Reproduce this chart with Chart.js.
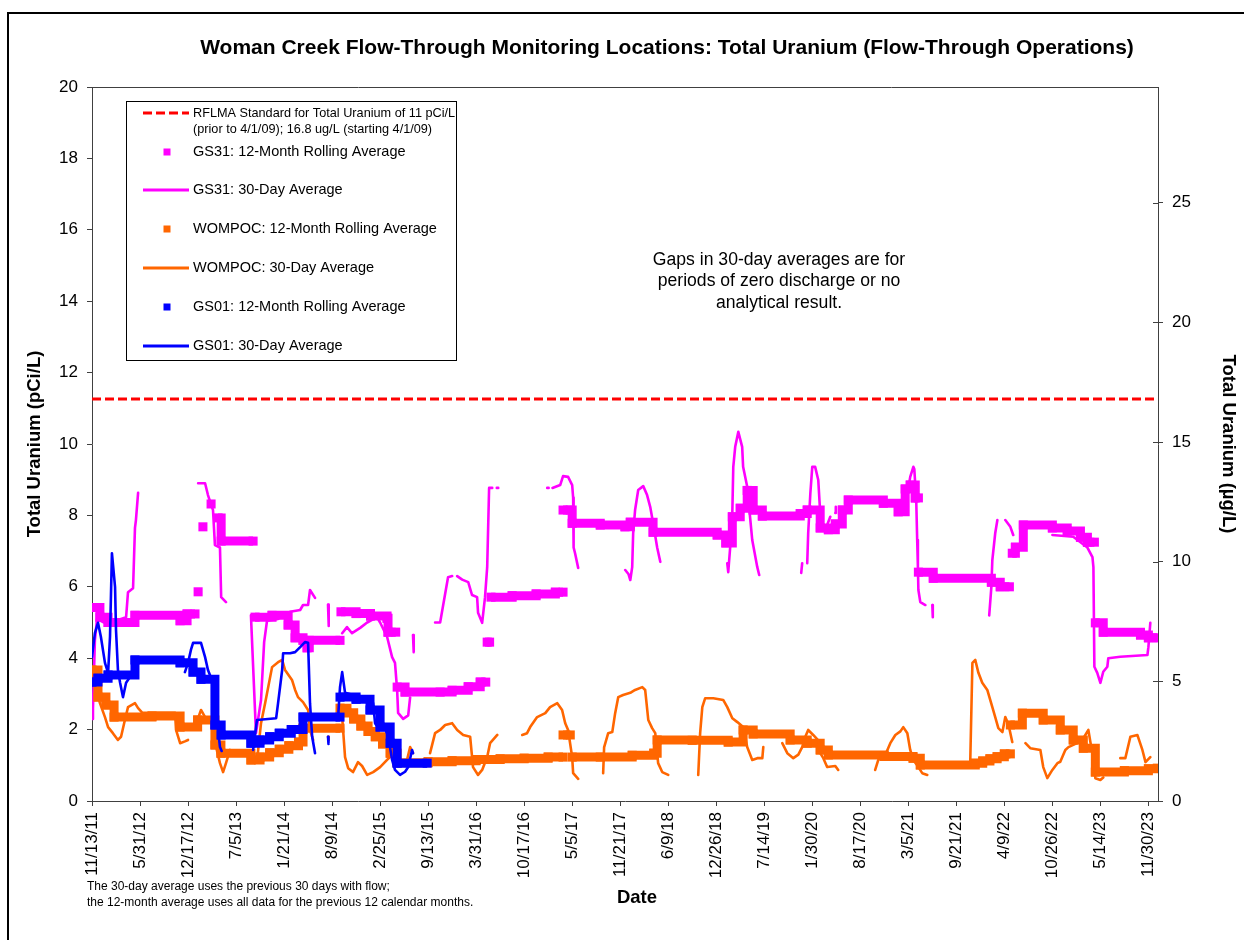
<!DOCTYPE html>
<html>
<head>
<meta charset="utf-8">
<script src="https://cdn.jsdelivr.net/npm/chart.js@4.4.1/dist/chart.umd.min.js"></script>
<style>
html,body{margin:0;padding:0;background:#fff;}
#wrap{width:1244px;height:940px;position:relative;}
</style>
</head>
<body>
<div id="wrap"><canvas id="myChart"></canvas></div>
<script>
// x values are days since 11/13/11 (first tick), y values in pCi/L
const dateTicks = ['11/13/11','5/31/12','12/17/12','7/5/13','1/21/14','8/9/14','2/25/15','9/13/15','3/31/16','10/17/16','5/5/17','11/21/17','6/9/18','12/26/18','7/14/19','1/30/20','8/17/20','3/5/21','9/21/21','4/9/22','10/26/22','5/14/23','11/30/23'];
const pciTicks = [0,2,4,6,8,10,12,14,16,18,20];
const ugTicks = [0,5,10,15,20,25];
const standardUgL = 16.8;
const xMax = 4440;
const ugMax = 29.84;

// GS31 12-month rolling average (step values, null = gap)
const gs31Roll = [
[0,5.42],[33,5.15],[67,5.0],[179,5.2],[367,5.05],[396,5.24],[429,5.24],null,
[442,5.86],null,[462,7.68],null,[496,8.32],null,
[525,7.93],[538,7.28],[671,7.28],null,
[679,5.15],[750,5.2],[817,4.93],[846,4.57],[879,4.5],[896,4.29],[905,4.5],[1033,4.5],null,
[1037,5.3],[1100,5.25],[1160,5.18],[1229,5.12],[1233,4.73],[1265,4.73],null,
[1271,3.19],[1304,3.05],[1450,3.05],[1500,3.1],[1567,3.2],[1617,3.33],[1640,3.33],null,
[1646,4.45],[1656,4.45],null,
[1662,5.71],[1750,5.75],[1850,5.8],[1930,5.85],[1962,5.85],null,
[1962,8.15],[1992,8.15],[2000,7.78],[2117,7.73],[2220,7.68],[2242,7.81],[2337,7.53],[2604,7.45],[2640,7.23],[2667,7.96],[2700,8.2],[2729,8.7],[2754,8.15],[2792,7.98],[2950,8.05],[2979,8.15],[3033,7.65],[3067,7.6],[3096,7.76],[3125,8.15],[3150,8.43],[3296,8.34],[3358,8.1],[3387,8.74],[3408,8.85],[3429,8.49],[3442,8.49],null,
[3442,6.41],[3504,6.24],[3746,6.13],[3783,6.0],[3821,6.0],null,
[3833,6.94],[3846,7.11],[3879,7.73],[4000,7.65],[4062,7.56],[4117,7.39],[4146,7.25],[4175,7.25],null,
[4179,4.99],[4212,4.73],[4367,4.65],[4400,4.57],[4437,4.57]
];

// GS31 30-day average
const gs31Avg = [
[0,2.3],[4,2.6],[12,4.5],[21,5.1],[50,5.0],[100,5.05],[142,5.15],[150,5.85],[171,5.96],[179,7.65],[183,7.87],[192,8.63],null,
[442,8.9],[471,8.9],[483,8.57],[504,8.15],[512,7.17],[533,7.1],[538,5.71],[558,5.57],null,
[662,5.2],[683,1.9],[704,2.83],[717,4.45],[729,5.05],[775,5.1],[825,5.3],[867,5.35],[879,5.49],[900,5.49],[908,5.91],[929,5.69],null,
[983,5.5],[986,4.9],null,
[1042,4.7],[1062,4.87],[1083,4.7],[1117,4.85],[1146,5.0],[1187,5.15],[1200,5.0],[1229,4.6],[1250,4.03],[1262,3.87],[1271,3.1],[1275,2.47],[1296,2.3],[1317,2.4],[1325,2.9],null,
[1337,4.65],[1340,4.17],null,
[1429,5.0],[1450,5.0],[1483,6.27],[1500,6.3],null,
[1521,6.3],[1542,6.2],[1567,6.13],[1583,5.77],[1604,5.71],[1608,5.27],[1625,4.99],[1637,5.71],[1646,6.55],[1654,8.77],[1667,8.77],null,
[1686,8.77],[1692,8.77],null,[1896,8.77],[1902,8.77],null,
[1918,8.77],[1950,8.85],[1962,9.1],[1983,9.08],[2000,8.85],[2004,8.5],[2006,7.1],[2012,6.94],[2025,6.53],null,
[2221,6.47],[2235,6.35],[2242,6.19],[2250,6.55],[2254,7.5],[2262,8.15],[2275,8.71],[2296,8.82],[2312,8.57],[2325,8.24],[2337,7.79],[2354,7.1],[2367,6.7],null,
[2646,6.66],[2650,6.41],[2658,7.1],[2667,8.07],[2671,9.36],[2679,9.92],[2692,10.34],[2708,9.92],[2712,9.36],[2729,8.8],[2750,7.31],[2771,6.55],[2779,6.33],null,
[2954,6.39],[2958,6.66],null,
[2979,6.66],[2983,7.5],[2992,8.62],[3000,9.36],[3012,9.36],[3025,8.99],[3033,8.07],[3042,7.68],null,
[3062,7.73],[3075,7.96],null,[3096,8.07],[3098,8.24],null,
[3379,8.29],[3396,8.6],[3408,9.08],[3421,9.36],[3425,9.3],[3433,8.43],[3437,7.31],[3440,6.55],[3442,5.91],[3450,5.57],[3471,5.49],null,
[3500,5.49],[3502,5.15],null,
[3737,5.2],[3746,6.0],[3750,6.75],[3762,7.5],[3771,7.87],null,
[3804,7.87],[3825,7.68],[3837,7.45],null,
[4000,7.45],[4087,7.4],[4146,7.1],[4167,6.83],[4171,6.55],[4175,3.76],[4187,3.59],[4200,3.31],[4212,3.62],[4229,3.76],[4233,4.0],[4283,4.04],[4396,4.09],[4400,4.31],[4408,4.99]
];

// WOMPOC 12-month rolling average
const wompocRoll = [
[0,3.67],[25,2.91],[58,2.69],[92,2.35],[250,2.38],[367,2.07],[440,2.27],[512,1.57],[537,1.34],[662,1.15],[700,1.23],[740,1.35],[780,1.45],[820,1.55],[860,1.65],[879,2.04],[1033,2.04],null,
[1033,2.6],[1062,2.47],[1090,2.3],[1120,2.1],[1150,1.95],[1180,1.8],[1210,1.6],[1242,1.34],[1271,1.07],[1400,1.1],[1500,1.13],[1600,1.16],[1700,1.18],[1800,1.2],[1900,1.23],[1962,1.23],null,
[1962,1.85],[1992,1.85],null,
[2000,1.23],[2117,1.23],[2250,1.28],[2340,1.34],[2354,1.71],[2500,1.7],[2650,1.65],[2712,1.99],[2754,1.88],[2908,1.71],[2979,1.62],[3033,1.43],[3067,1.29],[3300,1.25],[3420,1.2],[3450,1.01],[3679,1.06],[3710,1.12],[3740,1.18],[3770,1.24],[3800,1.32],[3825,1.32],null,
[3825,2.13],[3875,2.46],[3962,2.27],[4033,1.99],[4087,1.71],[4129,1.48],[4179,0.81],[4300,0.85],[4400,0.9],[4437,0.92]
];

// WOMPOC 30-day average
const wompocAvg = [
[0,3.7],[12,3.3],[33,2.74],[54,2.35],[67,2.07],[87,1.9],[108,1.71],[121,1.8],[137,2.27],[150,2.63],[179,2.74],[192,2.6],[210,2.47],[346,2.47],[350,1.99],[367,1.62],[387,1.67],[400,1.71],null,
[442,2.32],[454,2.55],[471,2.35],[512,2.32],[517,1.51],[533,1.06],[546,0.81],[558,1.06],[575,1.43],[600,1.3],[662,1.3],[679,1.06],[690,1.3],[704,2.18],[721,2.74],[750,3.75],[775,3.89],[792,3.95],[804,3.67],[833,3.39],[846,3.11],[858,2.91],[879,2.77],[900,2.55],[908,1.99],[921,1.71],null,
[983,1.8],[986,1.7],null,
[1025,2.63],[1042,2.35],[1054,1.23],[1067,0.92],[1087,0.81],[1108,1.09],[1125,0.98],[1146,0.73],[1171,0.81],[1200,0.95],[1229,1.15],[1250,1.29],[1271,1.06],[1312,1.15],[1325,1.51],[1337,1.34],null,
[1408,1.34],[1429,1.9],[1450,1.99],[1471,2.13],[1500,2.18],[1521,1.99],[1546,1.85],[1575,1.8],[1587,0.95],[1608,0.73],[1625,0.87],[1646,1.23],[1658,1.62],[1688,1.85],null,
[1792,1.85],[1812,1.9],[1825,2.07],[1854,2.35],[1888,2.46],[1908,2.63],[1938,2.74],[1958,2.55],[1971,2.18],[1983,1.99],[2000,1.23],[2004,0.78],[2025,0.62],null,
[2129,0.78],[2133,1.5],[2150,1.9],[2167,1.93],[2179,2.46],[2192,2.91],[2212,2.97],[2242,3.03],[2262,3.11],[2292,3.19],[2304,3.11],[2317,2.27],[2333,2.04],[2346,1.9],[2358,1.06],[2375,0.81],[2400,0.73],null,
[2525,0.73],[2533,1.9],[2542,2.63],[2554,2.88],[2588,2.88],[2629,2.83],[2646,2.63],[2667,2.32],[2688,2.21],[2712,2.07],[2729,1.51],[2750,1.15],[2771,1.2],[2792,1.2],[2796,1.51],null,
[2875,1.62],[2896,1.34],[2921,1.2],[2942,1.3],[2958,1.51],[2971,1.8],[2983,1.99],[3004,1.85],[3025,1.7],[3033,1.34],[3046,1.2],[3062,0.95],[3096,0.98],[3108,0.87],null,
[3262,0.87],[3275,1.15],[3304,1.29],[3325,1.62],[3346,1.85],[3367,1.95],[3379,2.07],[3396,1.9],[3408,1.43],[3421,1.15],[3442,0.95],[3458,0.78],[3479,0.73],null,
[3658,1.09],[3667,3.87],[3679,3.95],[3692,3.59],[3708,3.31],[3729,3.11],[3750,2.63],[3762,2.35],[3775,2.04],[3792,1.93],[3804,2.35],[3817,2.15],[3833,1.65],null,
[3888,1.62],[3908,1.48],[3950,1.43],[3962,0.95],[3979,0.64],[4000,0.87],[4021,1.06],[4033,1.1],[4054,1.43],[4067,1.51],[4096,1.6],[4117,1.65],[4133,1.8],[4150,1.99],[4162,1.51],[4171,1.34],[4179,0.64],[4200,0.59],[4212,0.66],null,
[4283,1.2],[4304,1.2],[4325,1.8],[4354,1.85],[4375,1.43],[4388,1.09],[4408,1.23]
];

// GS01 12-month rolling average
const gs01Roll = [
[0,3.33],[25,3.44],[67,3.53],[179,3.95],[367,3.87],[421,3.61],[454,3.41],[512,2.13],[538,1.85],[662,1.62],[700,1.71],[740,1.8],[780,1.9],[830,2.0],[879,2.35],[1033,2.35],null,
[1033,2.91],[1100,2.85],[1158,2.55],[1200,2.07],[1242,1.62],[1271,1.06],[1396,1.06]
];

// GS01 30-day average
const gs01Avg = [
[0,4.03],[12,4.7],[25,4.99],[37,4.6],[54,3.87],[67,3.59],[75,4.6],[83,6.94],[96,6.0],[100,4.79],[108,3.67],[117,3.31],[129,2.91],[142,3.31],[158,3.47],null,
[387,3.61],[400,3.87],[412,4.23],[421,4.43],[454,4.43],[471,4.03],[483,3.67],[504,3.31],[517,2.55],[533,1.51],[540,1.4],null,
[671,1.43],[687,2.27],[767,2.32],[775,2.74],[792,3.67],[796,4.14],[825,4.14],[846,4.17],[867,4.31],[887,4.45],[900,4.43],[908,2.74],[917,1.8],[929,1.34],null,
[983,1.8],[985,1.6],null,
[1025,2.35],[1033,3.19],[1042,3.61],[1054,3.03],[1100,2.95],[1158,2.83],[1171,2.74],[1179,2.18],[1187,2.1],[1192,2.47],[1205,2.3],[1221,1.99],[1233,1.85],[1250,1.15],[1262,0.87],[1283,0.73],[1304,0.82],[1317,0.95],[1333,1.43],[1337,1.34]
];

const MAGENTA = '#FF00FF', ORANGE = '#FF6600', BLUE = '#0000FF', RED = '#FF0000';
const FONT = "'Liberation Sans', Arial, Helvetica, sans-serif";
Chart.defaults.font.family = FONT;
Chart.defaults.color = '#000';

const t0 = Date.UTC(2011, 10, 13);
function dayOf(label) {
  const [m, d, y] = label.split('/').map(Number);
  return Math.round((Date.UTC(2000 + y, m - 1, d) - t0) / 864e5);
}
const tickDays = dateTicks.map(dayOf);

function toPoints(pairs) {
  let lastX = 0;
  return pairs.map(p => {
    if (!p) return {x: lastX, y: null};
    lastX = p[0];
    return {x: p[0], y: p[1]};
  });
}

// 12-month: stacked square markers -> thick stepped line + square points
function rollSet(label, pairs, color, z) {
  return {label, data: toPoints(pairs), yAxisID: 'y', borderColor: color, backgroundColor: color,
    borderWidth: 9, stepped: true, pointStyle: 'rect', pointRadius: 6.4, pointBorderWidth: 0,
    pointHoverRadius: 0, borderCapStyle: 'butt', borderJoinStyle: 'miter', order: z};
}
function avgSet(label, pairs, color, z) {
  return {label, data: toPoints(pairs), yAxisID: 'y', borderColor: color, backgroundColor: color,
    borderWidth: 2.6, pointRadius: 0, tension: 0, borderJoinStyle: 'round', borderCapStyle: 'round', order: z};
}

const datasets = [
  {label: 'RFLMA Standard', data: [{x: 0, y: standardUgL}, {x: xMax, y: standardUgL}], yAxisID: 'y2',
   borderColor: RED, borderWidth: 3, borderDash: [9, 4], pointRadius: 0, order: 0},
  rollSet('GS31: 12-Month Rolling Average', gs31Roll, MAGENTA, -1),
  avgSet('GS31: 30-Day Average', gs31Avg, MAGENTA, -2),
  rollSet('WOMPOC: 12-Month Rolling Average', wompocRoll, ORANGE, -3),
  avgSet('WOMPOC: 30-Day Average', wompocAvg, ORANGE, -4),
  rollSet('GS01: 12-Month Rolling Average', gs01Roll, BLUE, -5),
  avgSet('GS01: 30-Day Average', gs01Avg, BLUE, -6)
];

const legendRows = [
  {kind: 'dash', color: RED, y: 113, size: 12.7, text: ['RFLMA Standard for Total Uranium of 11 pCi/L', '(prior to 4/1/09); 16.8 ug/L (starting 4/1/09)']},
  {kind: 'square', color: MAGENTA, y: 152, text: ['GS31: 12-Month Rolling Average']},
  {kind: 'line', color: MAGENTA, y: 190, text: ['GS31: 30-Day Average']},
  {kind: 'square', color: ORANGE, y: 229, text: ['WOMPOC: 12-Month Rolling Average']},
  {kind: 'line', color: ORANGE, y: 268, text: ['WOMPOC: 30-Day Average']},
  {kind: 'square', color: BLUE, y: 307, text: ['GS01: 12-Month Rolling Average']},
  {kind: 'line', color: BLUE, y: 346, text: ['GS01: 30-Day Average']}
];

const decor = {
  id: 'decor',
  beforeDraw(chart) {
    const ctx = chart.ctx;
    ctx.save();
    ctx.fillStyle = '#fff';
    ctx.fillRect(0, 0, chart.width, chart.height);
    ctx.restore();
  },
  afterDraw(chart) {
    const ctx = chart.ctx;
    const a = chart.chartArea;
    ctx.save();
    // outer frame
    ctx.strokeStyle = '#000';
    ctx.lineWidth = 2;
    ctx.beginPath();
    ctx.moveTo(8, 940); ctx.lineTo(8, 13); ctx.lineTo(1244, 13);
    ctx.stroke();
    // plot frame top + inner ticks on right axis
    ctx.strokeStyle = '#404040';
    ctx.lineWidth = 1;
    ctx.beginPath();
    ctx.moveTo(a.left, a.top + 0.5); ctx.lineTo(a.right, a.top + 0.5);
    const y2 = chart.scales.y2;
    ugTicks.forEach(v => {
      const py = Math.round(y2.getPixelForValue(v)) + 0.5;
      ctx.moveTo(a.right - 5, py); ctx.lineTo(a.right, py);
    });
    ctx.stroke();

    // title
    ctx.fillStyle = '#000';
    ctx.textBaseline = 'middle';
    ctx.textAlign = 'center';
    ctx.font = 'bold 21px ' + FONT;
    ctx.fillText('Woman Creek Flow-Through Monitoring Locations: Total Uranium (Flow-Through Operations)', 667, 48);

    // x axis title
    ctx.font = 'bold 18.5px ' + FONT;
    ctx.fillText('Date', 637, 898);

    // note in plot
    ctx.font = '17.6px ' + FONT;
    ['Gaps in 30-day averages are for', 'periods of zero discharge or no', 'analytical result.']
      .forEach((t, i) => ctx.fillText(t, 779, 260 + i * 21.5));

    // footnote
    ctx.textAlign = 'left';
    ctx.font = '12px ' + FONT;
    ctx.fillText('The 30-day average uses the previous 30 days with flow;', 87, 887);
    ctx.fillText('the 12-month average uses all data for the previous 12 calendar months.', 87, 903);

    // legend box
    ctx.fillStyle = '#fff';
    ctx.fillRect(126.5, 101.5, 330, 259);
    ctx.strokeStyle = '#000';
    ctx.lineWidth = 1;
    ctx.strokeRect(126.5, 101.5, 330, 259);
    legendRows.forEach(r => {
      ctx.strokeStyle = r.color;
      ctx.fillStyle = r.color;
      if (r.kind === 'square') {
        ctx.fillRect(163.5, r.y - 3.5, 7, 7);
      } else {
        ctx.lineWidth = 3;
        ctx.setLineDash(r.kind === 'dash' ? [9, 4] : []);
        ctx.beginPath();
        ctx.moveTo(143, r.y); ctx.lineTo(189, r.y);
        ctx.stroke();
        ctx.setLineDash([]);
      }
      ctx.fillStyle = '#000';
      ctx.font = (r.size || 14.5) + 'px ' + FONT;
      r.text.forEach((t, i) => ctx.fillText(t, 193, r.y + i * 16));
    });
    ctx.restore();
  }
};

const axisGrid = {drawOnChartArea: false, drawTicks: true, tickLength: 5, color: '#404040', lineWidth: 1};

new Chart(document.getElementById('myChart'), {
  type: 'line',
  data: {datasets},
  plugins: [decor],
  options: {
    responsive: true,
    maintainAspectRatio: false,
    animation: false,
    events: [],
    layout: {padding: {top: 87, left: 0, right: 0, bottom: 0}},
    plugins: {legend: {display: false}, tooltip: {enabled: false}, title: {display: false}},
    scales: {
      x: {
        type: 'linear', min: 0, max: xMax,
        afterBuildTicks: s => { s.ticks = tickDays.map(v => ({value: v})); },
        afterFit: s => { s.height = 139; },
        ticks: {autoSkip: false, minRotation: 90, maxRotation: 90, padding: 6, font: {size: 17},
          callback: (v, i) => dateTicks[i]},
        grid: axisGrid,
        border: {color: '#404040', width: 1},
        title: {display: false}
      },
      y: {
        position: 'left', min: 0, max: 20,
        afterBuildTicks: s => { s.ticks = pciTicks.map(v => ({value: v})); },
        afterFit: s => { s.width = 92; },
        ticks: {padding: 9, font: {size: 17}},
        grid: axisGrid,
        border: {color: '#404040', width: 1},
        title: {display: true, text: 'Total Uranium (pCi/L)', font: {size: 18.5, weight: 'bold'}, padding: {top: 24, bottom: 0}}
      },
      y2: {
        position: 'right', min: 0, max: ugMax,
        afterBuildTicks: s => { s.ticks = ugTicks.map(v => ({value: v})); },
        afterFit: s => { s.width = 86; },
        ticks: {padding: 9, font: {size: 17}},
        grid: axisGrid,
        border: {color: '#404040', width: 1},
        title: {display: true, text: 'Total Uranium (µg/L)', font: {size: 18.5, weight: 'bold'}, padding: {top: 5, bottom: 0}}
      }
    }
  }
});
</script>
</body>
</html>
